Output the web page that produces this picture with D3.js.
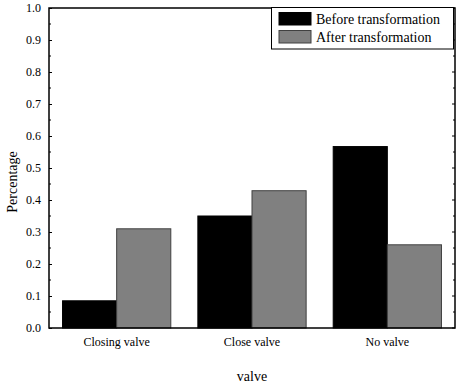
<!DOCTYPE html>
<html>
<head>
<meta charset="utf-8">
<script src="https://cdn.jsdelivr.net/npm/d3@7"></script>
<style>
  html, body { margin: 0; padding: 0; background: #fff; }
  svg { display: block; }
  svg text { font-family: "Liberation Serif", "Times New Roman", serif; fill: #000; }
</style>
</head>
<body>
<svg id="chart" width="458" height="383"></svg>
<script>
// Share of cases per valve state, before and after the transformation
const categories = ["Closing valve", "Close valve", "No valve"];
const seriesNames = ["Before transformation", "After transformation"];
const beforeValues = [0.085, 0.35, 0.567];
const afterValues = [0.31, 0.429, 0.26];
const yTicks = [0.0, 0.1, 0.2, 0.3, 0.4, 0.5, 0.6, 0.7, 0.8, 0.9, 1.0];
const seriesColors = ["#000000", "#808080"];
const seriesStrokes = ["#000000", "#404040"];

const svg = d3.select("#chart");
const margin = { left: 49, right: 3, top: 8, bottom: 55 };
const W = 458, H = 383;
const x0 = margin.left, x1 = W - margin.right;
const y0 = H - margin.bottom, y1 = margin.top;

const x = d3.scaleBand().domain(categories).range([x0, x1]).paddingInner(0.2).paddingOuter(0.1);
const xs = d3.scaleBand().domain(seriesNames).range([0, x.bandwidth()]);
const y = d3.scaleLinear().domain([0, 1]).range([y0, y1]);

const rows = categories.map((c, i) => ({ cat: c, vals: [beforeValues[i], afterValues[i]] }));

// bars
const g = svg.append("g");
rows.forEach(r => {
  r.vals.forEach((v, j) => {
    g.append("rect")
      .attr("x", x(r.cat) + xs(seriesNames[j]))
      .attr("y", y(v))
      .attr("width", xs.bandwidth())
      .attr("height", y(0) - y(v))
      .attr("fill", seriesColors[j])
      .attr("stroke", seriesStrokes[j])
      .attr("stroke-width", 1);
  });
});

// left axis with inward ticks
const left = svg.append("g").attr("transform", `translate(${x0},0)`)
  .call(d3.axisLeft(y).tickValues(yTicks).tickFormat(d3.format(".1f")).tickSizeInner(-3).tickSizeOuter(0).tickPadding(8));
left.select(".domain").remove();
left.attr("font-family", null);
left.selectAll("text").style("font-size", "12px");
// minor ticks
const minor = d3.range(0.05, 1, 0.1);
svg.append("g").selectAll("line").data(minor).join("line")
  .attr("x1", x0).attr("x2", x0 + 2).attr("y1", d => y(d)).attr("y2", d => y(d))
  .attr("stroke", "#000");
// right axis inward ticks
svg.append("g").selectAll("line").data(yTicks.concat(minor)).join("line")
  .attr("x1", x1).attr("x2", d => x1 - (minor.includes(d) ? 2 : 3)).attr("y1", d => y(d)).attr("y2", d => y(d))
  .attr("stroke", "#000");

// bottom axis labels
const bottom = svg.append("g").attr("transform", `translate(0,${y0})`)
  .call(d3.axisBottom(x).tickSize(0).tickPadding(9));
bottom.select(".domain").remove();
bottom.attr("font-family", null);
bottom.selectAll("text").style("font-size", "12px");

// frame
svg.append("rect").attr("x", x0).attr("y", y1).attr("width", x1 - x0).attr("height", y0 - y1)
  .attr("fill", "none").attr("stroke", "#000").attr("stroke-width", 1.5);

// axis titles
svg.append("text").attr("x", (x0 + x1) / 2).attr("y", 381)
  .attr("text-anchor", "middle").style("font-size", "14px").text("valve");
svg.append("text").attr("transform", `translate(17,${(y0 + y1) / 2 + 14}) rotate(-90)`)
  .attr("text-anchor", "middle").style("font-size", "14px").text("Percentage");

// legend
const lg = svg.append("g");
lg.append("rect").attr("x", 271.5).attr("y", 7.5).attr("width", 182).attr("height", 41.5)
  .attr("fill", "#fff").attr("stroke", "#000").attr("stroke-width", 1);
seriesNames.forEach((s, j) => {
  lg.append("rect").attr("x", 279).attr("y", 12.5 + j * 18).attr("width", 32).attr("height", 12.5)
    .attr("fill", seriesColors[j]).attr("stroke", seriesStrokes[j]).attr("stroke-width", 1);
  lg.append("text").attr("x", 316).attr("y", 24 + j * 18).style("font-size", "14px").text(s);
});
</script>
</body>
</html>
